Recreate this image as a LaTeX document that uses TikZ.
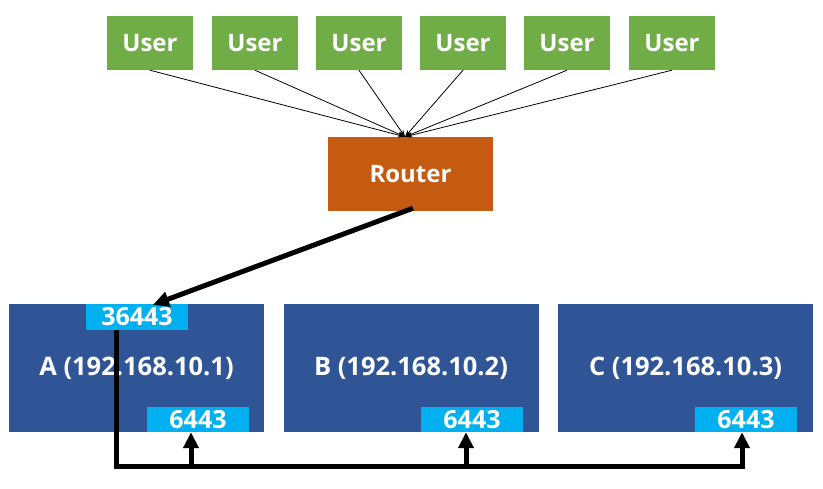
\documentclass[tikz,border=0pt]{standalone}
\usepackage{fontspec}
\setmainfont{Open Sans}
\usetikzlibrary{arrows.meta,calc}
\definecolor{ugreen}{HTML}{70AD47}
\definecolor{rorange}{HTML}{C55A11}
\definecolor{hblue}{HTML}{2F5597}
\definecolor{pcyan}{HTML}{00B0F0}
\begin{document}
\begin{tikzpicture}[x=1pt,y=-1pt,
  userbox/.style={rectangle,fill=ugreen,minimum width=86pt,minimum height=54pt,inner sep=0pt,text=white,font=\bfseries\fontsize{24}{28}\selectfont},
  routerbox/.style={rectangle,fill=rorange,minimum width=165pt,minimum height=74pt,inner sep=0pt,text=white,font=\bfseries\fontsize{24}{28}\selectfont},
  hostbox/.style={rectangle,fill=hblue,minimum width=255pt,minimum height=128pt,inner sep=0pt,text=white,font=\bfseries\fontsize{25.5}{30}\selectfont},
  portbox/.style={rectangle,fill=pcyan,minimum width=102pt,minimum height=25pt,inner sep=0pt,text=white,font=\bfseries\fontsize{25}{28}\selectfont},
  thinarrow/.style={-{Stealth[length=7pt,width=5pt]},line width=0.8pt},
  thickarrow/.style={-{Triangle[length=16pt,width=15pt]},line width=5pt},
  thickline/.style={line width=5pt}]
\useasboundingbox (0,0) rectangle (823,488);
\foreach \i/\x in {1/150,2/255,3/359,4/463,5/567,6/672}{
  \node[userbox] (u\i) at (\x,43) {User};
}
\node[routerbox] (router) at (410.5,174) {Router};
\coordinate (rin) at ($(router.north)+(-5.5,0)$);
\foreach \i in {1,...,6}{
  \draw[thinarrow] (u\i.south) -- (rin);
}
\node[hostbox] (A) at (136.5,368) {A (192.168.10.1)};
\node[hostbox] (B) at (411,368) {B (192.168.10.2)};
\node[hostbox] (C) at (685.5,368) {C (192.168.10.3)};
\node[portbox,minimum height=26pt] (pA1) at (137,317) {36443};
\node[portbox] (pA2) at (198,419.5) {6443};
\node[portbox] (pB) at (472,419.5) {6443};
\node[portbox] (pC) at (746,419.5) {6443};
\coordinate (rout) at ($(router.south)+(2.5,-3)$);
\coordinate (tipA) at ($(pA1.north)+(16,1)$);
\draw[thickarrow] (rout) -- (tipA);
\coordinate (s0) at ($(pA1.south)+(-21,0)$);
\coordinate (b0) at ($(s0)+(0,136)$);
\coordinate (ta) at ($(pA2.south)+(-7,0)$);
\coordinate (tb) at ($(pB.south)+(-6,0)$);
\coordinate (tc) at ($(pC.south)+(-4,0)$);
\draw[thickline] (s0) -- (b0) -- (b0 -| tc) -- ++(0,-10);
\draw[thickarrow] ($(b0 -| ta)+(0,2.5)$) -- (ta);
\draw[thickarrow] ($(b0 -| tb)+(0,2.5)$) -- (tb);
\draw[thickarrow] ($(b0 -| tc)+(0,2.5)$) -- (tc);
\end{tikzpicture}
\end{document}
